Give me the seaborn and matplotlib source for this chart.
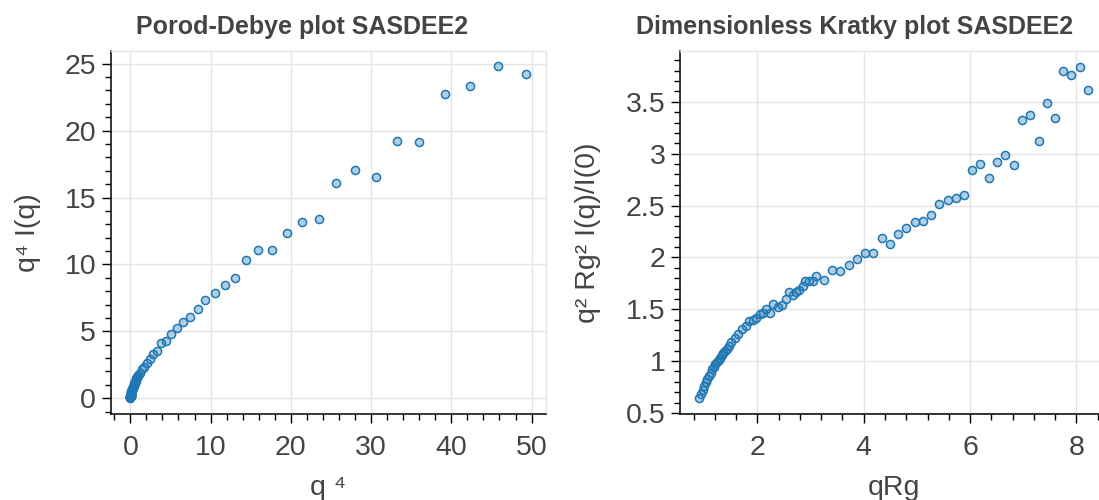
import matplotlib
matplotlib.use("Agg")
import matplotlib.pyplot as plt
import seaborn as sns
from matplotlib.ticker import MultipleLocator, FuncFormatter

# ---------------- data ----------------
porod_q4 = [0.0074, 0.0085, 0.0096, 0.0109, 0.0122, 0.0137, 0.0153, 0.0171, 0.0190,
            0.0211, 0.0233, 0.0257, 0.0282, 0.0310, 0.0340, 0.0371, 0.0405, 0.0441,
            0.0493, 0.0564, 0.0660, 0.0785, 0.0928, 0.1090, 0.1272, 0.1445, 0.1668,
            0.1880, 0.2111, 0.2407, 0.2733, 0.2985, 0.3483, 0.4041, 0.4448, 0.4961,
            0.5517, 0.5942, 0.6578, 0.7162, 0.7678, 0.8446, 0.9271, 1.0155, 1.2261,
            1.4678, 1.7436, 2.0788, 2.4602, 2.8633, 3.3140, 3.8513, 4.4120, 5.0753,
            5.7625, 6.5701, 7.4017, 8.3731, 9.3679, 10.524, 11.784, 13.065, 14.448,
            15.937, 17.650, 19.497, 21.357, 23.485, 25.620, 28.055, 30.659, 33.261,
            36.026, 39.161, 42.282, 45.813, 49.320]
porod_y = [0.053, 0.060, 0.067, 0.076, 0.084, 0.093, 0.102, 0.111, 0.121, 0.130,
           0.141, 0.152, 0.162, 0.173, 0.187, 0.199, 0.212, 0.225, 0.244, 0.268,
           0.299, 0.337, 0.381, 0.422, 0.473, 0.508, 0.554, 0.600, 0.641, 0.703,
           0.729, 0.809, 0.857, 0.935, 1.019, 1.123, 1.163, 1.229, 1.309, 1.390,
           1.481, 1.554, 1.628, 1.752, 1.882, 2.175, 2.358, 2.658, 2.966, 3.297,
           3.547, 4.104, 4.273, 4.798, 5.227, 5.728, 6.106, 6.660, 7.337, 7.900,
           8.425, 8.975, 10.309, 11.056, 11.114, 12.313, 13.196, 13.375, 16.048,
           17.046, 16.498, 19.222, 19.145, 22.710, 23.349, 24.822, 24.211]

kratky_qrg = [0.91, 0.94, 0.97, 1.00, 1.03, 1.06, 1.09, 1.12, 1.15, 1.18, 1.21, 1.24,
              1.27, 1.30, 1.33, 1.36, 1.39, 1.42, 1.46, 1.51, 1.57, 1.64, 1.71, 1.78,
              1.85, 1.91, 1.98, 2.04, 2.10, 2.17, 2.24, 2.29, 2.38, 2.47, 2.53, 2.60,
              2.67, 2.72, 2.79, 2.85, 2.90, 2.97, 3.04, 3.11, 3.26, 3.41, 3.56, 3.72,
              3.88, 4.03, 4.18, 4.34, 4.49, 4.65, 4.80, 4.96, 5.11, 5.27, 5.42, 5.58,
              5.74, 5.89, 6.04, 6.19, 6.35, 6.51, 6.66, 6.82, 6.97, 7.13, 7.29, 7.44,
              7.59, 7.75, 7.90, 8.06, 8.21]
kratky_y = [0.64, 0.68, 0.72, 0.76, 0.80, 0.83, 0.86, 0.89, 0.92, 0.94, 0.97, 0.99,
            1.01, 1.03, 1.06, 1.08, 1.10, 1.12, 1.15, 1.18, 1.22, 1.26, 1.31, 1.34,
            1.39, 1.40, 1.42, 1.45, 1.46, 1.50, 1.46, 1.55, 1.52, 1.54, 1.60, 1.67,
            1.64, 1.67, 1.69, 1.72, 1.77, 1.77, 1.77, 1.82, 1.78, 1.88, 1.87, 1.93,
            1.98, 2.04, 2.04, 2.19, 2.13, 2.23, 2.28, 2.34, 2.35, 2.41, 2.51, 2.55,
            2.57, 2.60, 2.84, 2.90, 2.77, 2.92, 2.99, 2.89, 3.32, 3.37, 3.12, 3.49,
            3.34, 3.80, 3.76, 3.84, 3.61]

titles = ["Porod-Debye plot SASDEE2", "Dimensionless Kratky plot SASDEE2"]
xlabels = ["q \u2074", "qRg"]
ylabels = ["q\u2074 I(q)", "q\u00b2 Rg\u00b2 I(q)/I(0)"]

# ---------------- style ----------------
sns.set_theme(style="white")
plt.rcParams['font.family'] = ['Liberation Sans', 'DejaVu Sans']

TEXT = '#444444'
GRID = '#e5e5e5'
EDGE = '#1f77b4'
FACE = (31/255, 119/255, 180/255, 0.35)

W, H = 1099, 500
fig = plt.figure(figsize=(W/100, H/100), dpi=100)
fig.patch.set_facecolor('white')

# frames in pixels: left, right, top, bottom
frames = [(110.5, 546.0, 51, 414), (680.0, 1107.0, 51, 414)]
axes = []
for (l, r, t, b) in frames:
    axes.append(fig.add_axes([l/W, 1 - b/H, (r-l)/W, (b-t)/H]))
ax1, ax2 = axes

fmt = FuncFormatter(lambda v, p: f"{v:g}")

def style(ax, xmaj, xmin, ymaj, ymin):
    ax.set_facecolor('white')
    ax.grid(True, which='major', color=GRID, linewidth=1.0)
    ax.set_axisbelow(True)
    for s in ['top', 'right']:
        ax.spines[s].set_color(GRID)
        ax.spines[s].set_linewidth(1.0)
    for s in ['left', 'bottom']:
        ax.spines[s].set_color('black')
        ax.spines[s].set_linewidth(1.1)
    ax.xaxis.set_major_locator(MultipleLocator(xmaj))
    ax.xaxis.set_minor_locator(MultipleLocator(xmin))
    ax.yaxis.set_major_locator(MultipleLocator(ymaj))
    ax.yaxis.set_minor_locator(MultipleLocator(ymin))
    ax.xaxis.set_major_formatter(fmt)
    ax.yaxis.set_major_formatter(fmt)
    ax.tick_params(which='both', bottom=True, left=True, top=False, right=False,
                   direction='out', color='black', width=1.0)
    ax.tick_params(which='major', length=6.5, labelsize=20.5, labelcolor=TEXT)
    ax.tick_params(which='minor', length=4.0)
    ax.tick_params(axis='x', which='major', pad=8.3)
    ax.tick_params(axis='y', which='major', pad=3.8)

sns.scatterplot(x=porod_q4, y=porod_y, ax=ax1, s=34, facecolor=FACE,
                edgecolor=EDGE, linewidth=1.1, legend=False, zorder=3)
sns.scatterplot(x=kratky_qrg, y=kratky_y, ax=ax2, s=34, facecolor=FACE,
                edgecolor=EDGE, linewidth=1.1, legend=False, zorder=3)
for ax in axes:
    coll = ax.collections[-1]
    coll.set_facecolor(FACE)
    coll.set_edgecolor(EDGE)
    coll.set_clip_on(True)

style(ax1, 10, 2, 5, 1)
style(ax2, 2, 0.4, 0.5, 0.1)
ax1.set_xlim(-2.47, 51.8)
ax1.set_ylim(-1.18, 25.95)
ax2.set_xlim(0.544, 8.576)
ax2.set_ylim(0.49, 3.99)

ylab_x = [28, 588]
for ax, (l, r, t, b), xl, yl, yx in zip(axes, frames, xlabels, ylabels, ylab_x):
    ax.set_xlabel(xl, fontsize=20.5, color=TEXT)
    ax.xaxis.label.set_va('baseline')
    ax.xaxis.set_label_coords(0.5, -(495 - b) / (b - t))
    ax.set_ylabel(yl, fontsize=20.5, color=TEXT)
    ax.yaxis.label.set_va('center')
    ax.yaxis.set_label_coords((yx - l) / (r - l), 0.5)

title_x = [302, 855]
for tx, ttl in zip(title_x, titles):
    fig.text(tx / W, 1 - 34 / H, ttl, ha='center', va='baseline',
             fontsize=18, fontweight='bold', color=TEXT)

fig.savefig('out.png', dpi=100, facecolor='white')
